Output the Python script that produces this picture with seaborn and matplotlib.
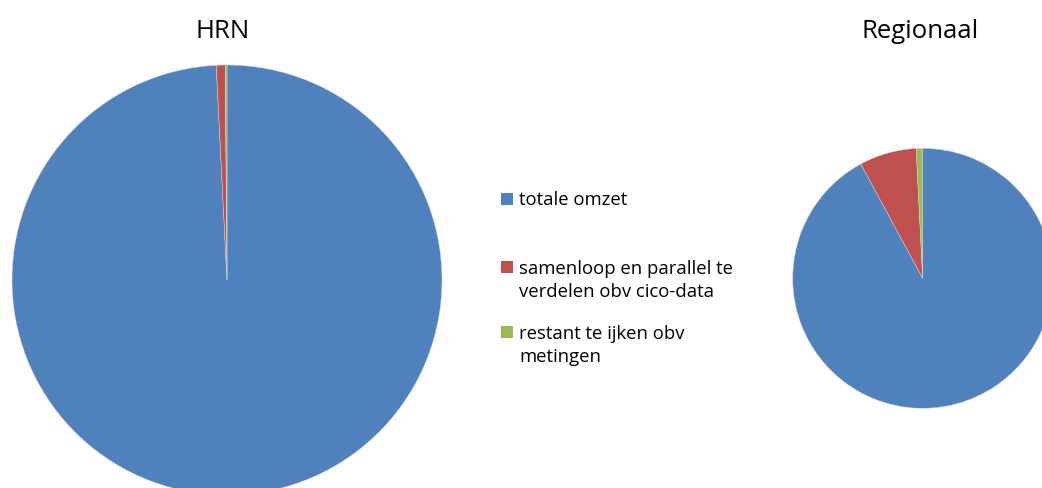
import matplotlib
matplotlib.use("Agg")
import matplotlib.pyplot as plt
import seaborn as sns
from matplotlib.patches import Rectangle

# Data
categories = ["totale omzet", "samenloop en parallel te\nverdelen obv cico-data", "restant te ijken obv\nmetingen"]
hrn_values = [99.2, 0.67, 0.13]
regionaal_values = [92.1, 7.1, 0.8]
titles = ["HRN", "Regionaal"]
colors = ["#4F81BD", "#C0504D", "#9BBB59"]

sns.set_theme(style="white")
plt.rcParams["font.family"] = ["Open Sans", "DejaVu Sans"]

W, H = 1042, 489
fig = plt.figure(figsize=(W / 100, H / 100), dpi=100)
fig.patch.set_facecolor("white")

def add_pie(cx, cy, r, values):
    ax = fig.add_axes([(cx - r) / W, (H - cy - r) / H, 2 * r / W, 2 * r / H])
    ax.pie(values, colors=colors, startangle=90, counterclock=False,
           radius=1, wedgeprops=dict(linewidth=0.3, edgecolor="#dddddd"))
    ax.set_xlim(-1, 1)
    ax.set_ylim(-1, 1)
    ax.set_aspect("equal")
    ax.axis("off")
    return ax

add_pie(227, 281, 215, hrn_values)
add_pie(922.7, 279.3, 130, regionaal_values)

fig.text(222.5 / W, 1 - 32 / H, titles[0], ha="center", va="center", fontsize=18.5, color="black")
fig.text(920.5 / W, 1 - 32 / H, titles[1], ha="center", va="center", fontsize=18.5, color="black")

# Legend (manual placement to match)
sq = 12
rows = [(200, 200), (268, 280.5), (333, 345.5)]
for (sq_y, txt_y), lab, col in zip(rows, categories, colors):
    fig.patches.append(Rectangle((501 / W, 1 - (sq_y + sq / 2) / H), sq / W, sq / H,
                                 transform=fig.transFigure, facecolor=col, edgecolor="none"))
    fig.text(519 / W, 1 - txt_y / H, lab, ha="left", va="center", fontsize=13.3,
             color="black", linespacing=1.35)

fig.savefig("out.png", dpi=100, facecolor="white")
